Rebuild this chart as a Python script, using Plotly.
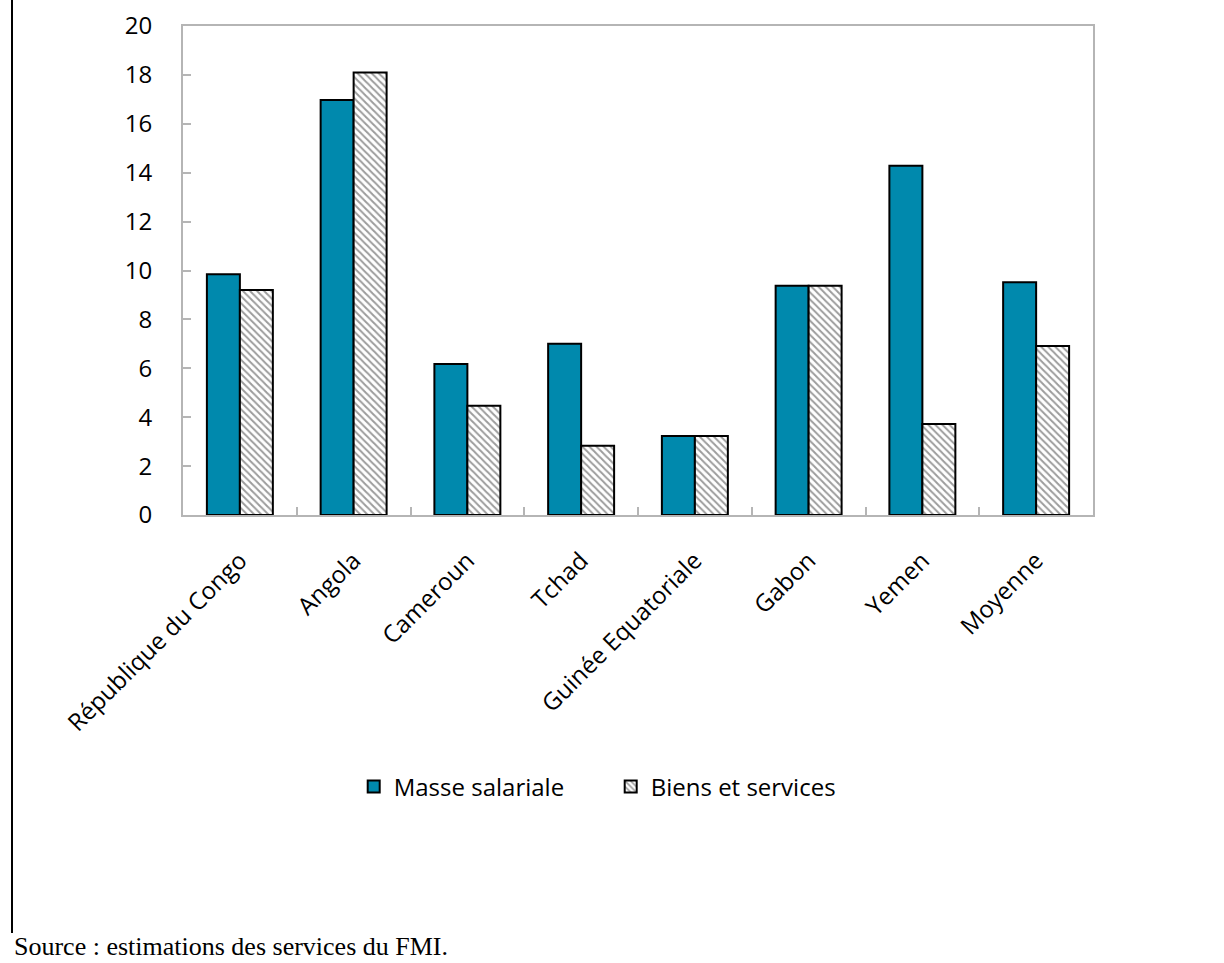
import plotly.graph_objects as go

# Dépenses courantes par pays (en % du PIB)
pays = ["République du Congo", "Angola", "Cameroun", "Tchad",
        "Guinée Equatoriale", "Gabon", "Yemen", "Moyenne"]
masse_salariale = [9.85, 16.97, 6.18, 7.0, 3.23, 9.38, 14.28, 9.52]
biens_services = [9.2, 18.1, 4.47, 2.83, 3.23, 9.38, 3.72, 6.91]
y_ticks = [0, 2, 4, 6, 8, 10, 12, 14, 16, 18, 20]

W, H = 1224, 963
L, R, T, B = 183, 1093, 26, 515          # plot area in pixels
pw, ph = R - L, B - T

def px_x(x):
    return (x - L) / pw

def px_y(y):
    return (B - y) / ph

font_main = "Open Sans"
axis_grey = "#b5b5b5"
fs = 24

fig = go.Figure()
fig.add_trace(go.Bar(
    x=pays, y=masse_salariale, name="Masse salariale",
    marker=dict(color="#0089AD", line=dict(color="black", width=2)),
))
fig.add_trace(go.Bar(
    x=pays, y=biens_services, name="Biens et services",
    marker=dict(color="white", line=dict(color="black", width=2),
                pattern=dict(shape="\\", size=5, solidity=0.4,
                             fgcolor="#3a3a3a", bgcolor="white")),
))

fig.update_layout(
    width=W, height=H,
    margin=dict(l=L, r=W - R, t=T, b=H - B, pad=0, autoexpand=False),
    paper_bgcolor="white", plot_bgcolor="white",
    barmode="group", bargap=0.42, bargroupgap=0,
    font=dict(family=font_main, size=fs, color="black"),
    showlegend=True,
    legend=dict(orientation="h", x=0.47, xanchor="center",
                y=px_y(787), yanchor="middle",
                font=dict(family=font_main, size=fs, color="black"),
                entrywidth=212, entrywidthmode="pixels",
                bgcolor="rgba(0,0,0,0)"),
    xaxis=dict(
        type="category", tickangle=-45, tickson="boundaries",
        ticks="inside", ticklen=8, tickwidth=2, tickcolor=axis_grey,
        showline=True, linecolor=axis_grey, linewidth=2, mirror=True,
        showgrid=False, ticklabelstandoff=20, automargin=False,
        tickfont=dict(family=font_main, size=fs, color="black"),
    ),
    yaxis=dict(
        range=[0, 20], tickvals=y_ticks,
        ticks="inside", ticklen=8, tickwidth=2, tickcolor=axis_grey,
        showline=True, linecolor=axis_grey, linewidth=2, mirror=True,
        showgrid=False, zeroline=False, ticklabelstandoff=24,
        automargin=False,
        tickfont=dict(family=font_main, size=fs, color="black"),
    ),
    shapes=[dict(type="line", xref="paper", yref="paper",
                 x0=px_x(12), x1=px_x(12), y0=px_y(933), y1=px_y(0),
                 line=dict(color="black", width=2))],
    annotations=[dict(text="Source : estimations des services du FMI.",
                      xref="paper", yref="paper", x=px_x(12), y=px_y(946),
                      xanchor="left", yanchor="middle", showarrow=False,
                      font=dict(family="Liberation Serif", size=26,
                                color="black"))],
)

fig.write_html("out.html")
